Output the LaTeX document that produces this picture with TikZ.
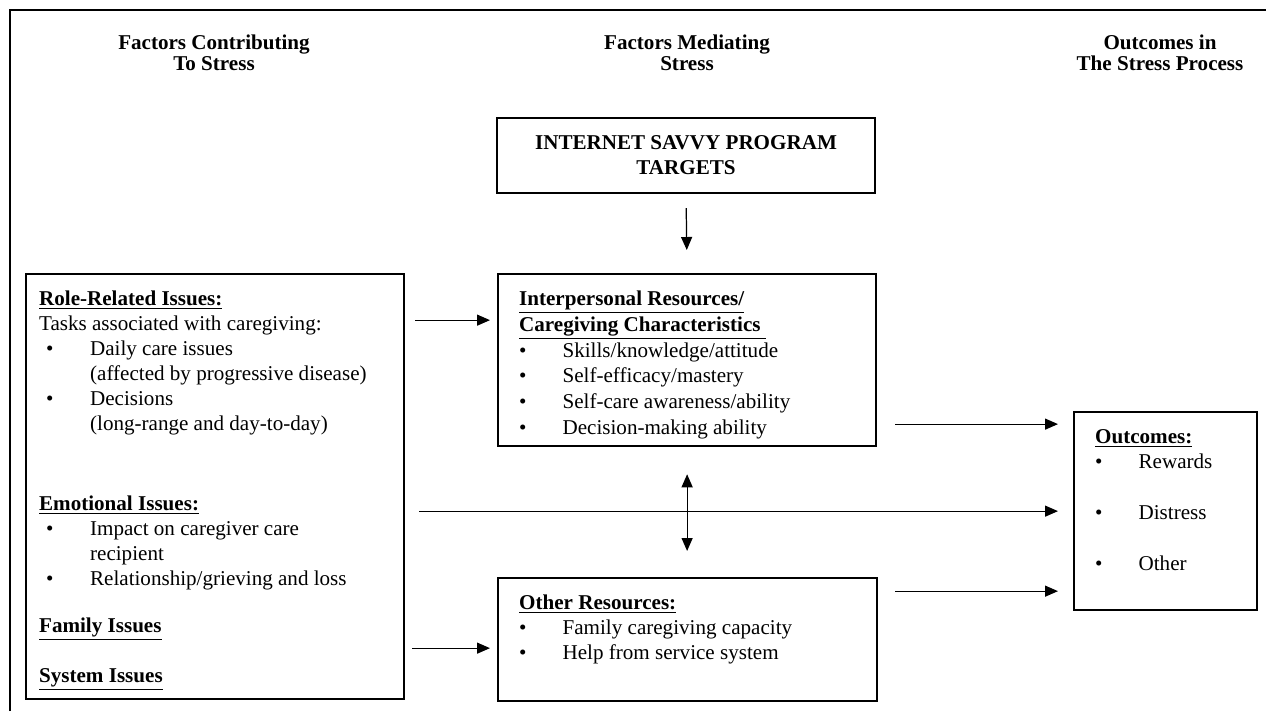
\documentclass[tikz,border=0pt]{standalone}
\usepackage{fontspec}
\setmainfont{Liberation Serif}
\usetikzlibrary{arrows.meta}

\tikzset{
	box/.style={draw, line width=1.3pt, inner ysep=0.34cm, anchor=north west, font=\fontsize{12}{14.2}\selectfont},
	head/.style={align=center, font=\bfseries\fontsize{12}{12.2}\selectfont},
	arr/.style={-{Triangle[length=0.26cm,width=0.22cm]}, line width=0.7pt},
}

\newcommand{\boxtext}[3]{\parbox[c][#2][t]{#1}{\raggedright #3}}
\newcommand{\itm}[1]{\makebox[0.87cm][l]{\textbullet}#1}
\newcommand{\itmw}[1]{\makebox[1.02cm][l]{\hspace*{0.14cm}\textbullet}#1}

\begin{document}
\begin{tikzpicture}[x=0.02cm,y=-0.02cm]
			\useasboundingbox (0,0) rectangle (1266,711);

			% frame
			\draw[line width=1.6pt] (10,711) -- (10,10) -- (1266,10);

			% column titles
			\node[head] (hcon) at (214,53) {Factors Contributing\\To Stress};
			\node[head] (hmed) at (687,53) {Factors Mediating\\Stress};
			\node[head] (hout) at (1160,53) {Outcomes in\\The Stress Process};

			% program targets
			\node[box, anchor=center, align=center, inner sep=0pt, minimum width=7.56cm, minimum height=1.5cm,
				font=\bfseries\fontsize{12}{14.2}\selectfont] (isp) at (686,155.5) {
				INTERNET SAVVY PROGRAM\\TARGETS
			};

			% factors contributing to stress
			\node[box, inner xsep=0.26cm] (left) at (25,273) {\boxtext{7.04cm}{7.82cm}{
				\underline{\textbf{Role-Related Issues:}}\\
				Tasks associated with caregiving:\\
				\itmw{Daily care issues}\\
				\hspace*{1.02cm}(affected by progressive disease)\\
				\itmw{Decisions}\\
				\hspace*{1.02cm}(long-range and day-to-day)\\[1.1cm]
				\underline{\textbf{Emotional Issues:}}\\
				\itmw{Impact on caregiver care}\\
				\hspace*{1.02cm}recipient\\
				\itmw{Relationship/grieving and loss}\\[0.44cm]
				\underline{\textbf{Family Issues}}\\[0.5cm]
				\underline{\textbf{System Issues}}
			}};

			% interpersonal resources
			\node[box, inner xsep=0.42cm, font=\fontsize{12}{14.6}\selectfont] (inter) at (497,273) {\boxtext{6.72cm}{2.76cm}{
				\underline{\textbf{Interpersonal Resources/}}\\
				\underline{\textbf{Caregiving Characteristics}\ }\\
				\itm{Skills/knowledge/attitude}\\
				\itm{Self-efficacy/mastery}\\
				\itm{Self-care awareness/ability}\\
				\itm{Decision-making ability}
			}};

			% other resources
			\node[box, inner xsep=0.42cm] (other) at (497,577) {\boxtext{6.74cm}{1.78cm}{
				\underline{\textbf{Other Resources:}}\\
				\itm{Family caregiving capacity}\\
				\itm{Help from service system}
			}};

			% outcomes
			\node[box, inner xsep=0.42cm] (outc) at (1073,411) {\boxtext{2.82cm}{3.28cm}{
				\underline{\textbf{Outcomes:}}\\
				\itm{Rewards}\\[0.52cm]
				\itm{Distress}\\[0.54cm]
				\itm{Other}
			}};

			% targets to interpersonal
			\draw[arr, shorten <=0.28cm, shorten >=0.46cm] (isp.south) -- (inter.north);

			% role-related to interpersonal
			\draw[arr, shorten <=0.2cm, shorten >=0.14cm] ([yshift=0.8cm]inter.west -| left.east) -- ([yshift=0.8cm]inter.west);

			% family to other
			\draw[arr, shorten <=0.14cm, shorten >=0.14cm] ([yshift=-0.17cm]other.west -| left.east) -- ([yshift=-0.17cm]other.west);

			% emotional to outcomes
			\draw[arr, shorten <=0.28cm, shorten >=0.3cm] (left.east |- outc.west) -- (outc.west);

			% interpersonal to outcomes
			\draw[arr, shorten <=0.36cm, shorten >=0.3cm] ([yshift=-1.28cm]inter.east) -- ([yshift=-1.28cm]inter.east -| outc.west);

			% other to outcomes
			\draw[arr, shorten <=0.34cm, shorten >=0.3cm] ([yshift=0.97cm]other.east) -- ([yshift=0.97cm]other.east -| outc.west);

			% interpersonal and other
			\draw[arr, {Triangle[length=0.26cm,width=0.22cm]}-{Triangle[length=0.26cm,width=0.22cm]}, shorten <=0.54cm, shorten >=0.52cm] (inter.south) -- (inter.south |- other.north);
		\end{tikzpicture}
\end{document}
